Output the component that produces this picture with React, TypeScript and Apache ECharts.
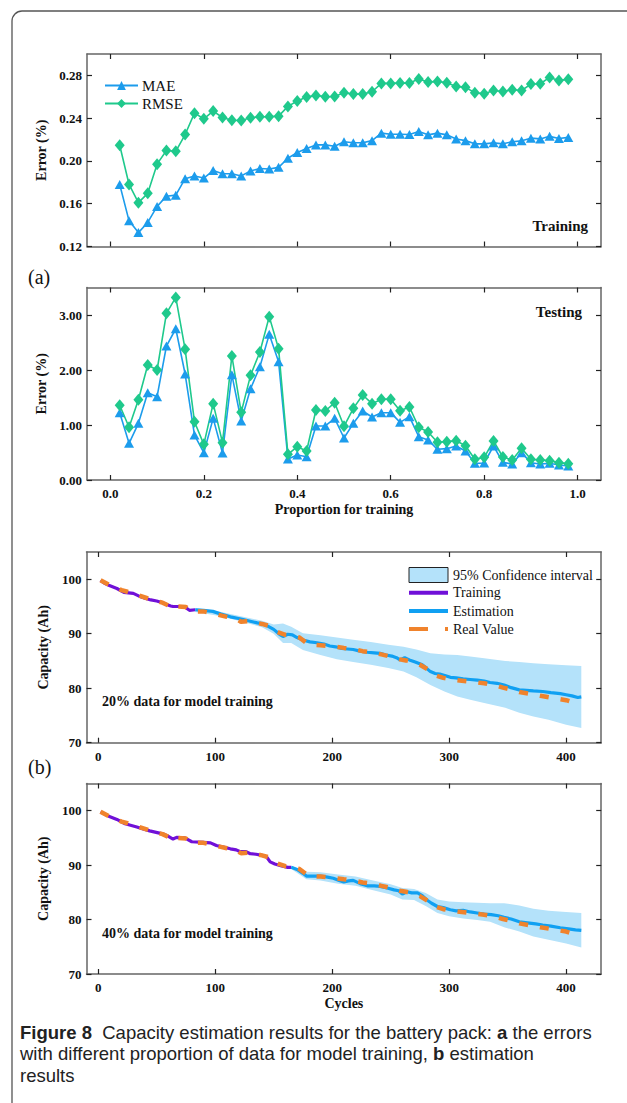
import React, { useEffect, useRef } from "react";
import * as echarts from "echarts";

// ---------- data (a) ----------
const proportions = [0.02, 0.04, 0.06, 0.08, 0.1, 0.12, 0.14, 0.16, 0.18, 0.2, 0.22, 0.24, 0.26, 0.28, 0.3, 0.32, 0.34, 0.36, 0.38, 0.4, 0.42, 0.44, 0.46, 0.48, 0.5, 0.52, 0.54, 0.56, 0.58, 0.6, 0.62, 0.64, 0.66, 0.68, 0.7, 0.72, 0.74, 0.76, 0.78, 0.8, 0.82, 0.84, 0.86, 0.88, 0.9, 0.92, 0.94, 0.96, 0.98];
const trainMAE = [0.178, 0.144, 0.133, 0.1425, 0.1575, 0.167, 0.168, 0.1834, 0.186, 0.184, 0.191, 0.188, 0.188, 0.186, 0.1906, 0.193, 0.1925, 0.194, 0.2025, 0.208, 0.2116, 0.215, 0.215, 0.2138, 0.218, 0.217, 0.217, 0.219, 0.226, 0.225, 0.225, 0.2247, 0.2275, 0.2244, 0.226, 0.2244, 0.2206, 0.219, 0.216, 0.216, 0.2169, 0.216, 0.218, 0.2188, 0.2213, 0.2206, 0.223, 0.221, 0.222];
const trainRMSE = [0.2147, 0.178, 0.161, 0.1697, 0.197, 0.2097, 0.209, 0.2247, 0.2447, 0.2394, 0.2466, 0.2406, 0.238, 0.2378, 0.2403, 0.2413, 0.2413, 0.2419, 0.251, 0.256, 0.2597, 0.2613, 0.26, 0.2603, 0.2638, 0.2625, 0.2625, 0.2647, 0.2725, 0.2725, 0.2728, 0.2728, 0.2766, 0.2738, 0.2744, 0.2731, 0.2697, 0.2688, 0.2638, 0.2628, 0.2659, 0.265, 0.2666, 0.2659, 0.2719, 0.2722, 0.2781, 0.2753, 0.2763];
const testMAE = [1.224, 0.667, 1.03, 1.588, 1.515, 2.436, 2.75, 1.927, 0.818, 0.497, 1.121, 0.491, 1.915, 1.073, 1.66, 2.06, 2.648, 2.15, 0.382, 0.455, 0.424, 0.982, 0.982, 1.121, 0.764, 1.03, 1.255, 1.145, 1.224, 1.224, 1.048, 1.152, 0.788, 0.727, 0.558, 0.57, 0.618, 0.527, 0.303, 0.309, 0.618, 0.321, 0.291, 0.497, 0.315, 0.291, 0.303, 0.273, 0.255];
const testRMSE = [1.358, 0.958, 1.46, 2.09, 2.0, 3.03, 3.32, 2.376, 1.06, 0.648, 1.388, 0.679, 2.255, 1.23, 1.903, 2.327, 2.97, 2.388, 0.467, 0.606, 0.527, 1.273, 1.255, 1.406, 0.976, 1.303, 1.545, 1.388, 1.467, 1.467, 1.26, 1.327, 0.958, 0.873, 0.685, 0.697, 0.715, 0.624, 0.376, 0.412, 0.709, 0.418, 0.364, 0.576, 0.376, 0.364, 0.352, 0.315, 0.297];
const propTicks = [0, 0.2, 0.4, 0.6, 0.8, 1.0];
const trainTicks = [0.12, 0.16, 0.2, 0.24, 0.28];
const testTicks = [0, 1, 2, 3];

// ---------- data (b) ----------
const cycleTicks = [0, 100, 200, 300, 400];
const capTicks = [70, 80, 90, 100];
const realCycles = [2, 10, 20, 25, 35, 45, 55, 60, 64, 68, 75, 80, 90, 100, 110, 118, 122, 128, 140, 145, 152, 160, 165, 172, 180, 190, 200, 210, 218, 226, 234, 242, 250, 258, 263, 267, 275, 283, 288, 295, 306, 318, 330, 340, 346, 352, 360, 368, 378, 389, 400, 409];
const realValues = [99.8, 98.9, 98.0, 97.7, 97.0, 96.3, 95.7, 95.2, 94.6, 95.0, 94.9, 94.1, 94.1, 93.6, 93.1, 92.7, 92.2, 92.3, 91.8, 91.5, 90.4, 89.8, 89.7, 89.3, 88.0, 87.9, 87.7, 87.4, 87.2, 86.8, 86.6, 86.2, 85.8, 85.3, 85.1, 84.9, 84.3, 83.3, 82.4, 81.9, 81.5, 81.2, 80.9, 80.5, 80.1, 79.8, 79.3, 79.0, 78.6, 78.2, 77.8, 77.2];

// 20% training
const train20Cycles = [2, 6, 9, 16, 22, 30, 35, 40, 45, 50, 55, 58, 62, 64, 67, 70, 74, 78, 83];
const train20Values = [99.8, 99.2, 98.9, 98.3, 97.6, 97.4, 96.9, 96.5, 96.2, 96.0, 95.7, 95.4, 95.1, 95.0, 95.0, 95.0, 94.9, 94.3, 94.4];
const est20Cycles = [83, 90, 98, 105, 113, 120, 124, 130, 136, 141, 145, 150, 155, 158, 162, 166, 170, 175, 181, 187, 193, 198, 203, 208, 213, 218, 224, 230, 236, 241, 246, 251, 255, 258, 262, 266, 271, 277, 281, 284, 288, 292, 297, 301, 306, 312, 318, 324, 330, 335, 341, 347, 353, 360, 366, 372, 380, 387, 395, 400, 405, 410, 413];
const est20Values = [94.4, 94.3, 94.1, 93.6, 93.1, 92.8, 92.6, 92.3, 92.0, 91.8, 91.4, 90.8, 89.9, 89.5, 89.9, 89.8, 89.3, 88.85, 88.5, 88.35, 88.1, 87.75, 87.6, 87.3, 87.2, 87.1, 86.8, 86.6, 86.5, 86.4, 86.1, 85.9, 85.6, 85.2, 85.6, 85.2, 84.8, 84.3, 83.6, 83.05, 82.7, 82.6, 82.3, 82.0, 81.9, 81.7, 81.6, 81.5, 81.3, 81.05, 80.9, 80.6, 80.1, 79.7, 79.6, 79.5, 79.4, 79.2, 79.0, 78.8, 78.6, 78.3, 78.4];
const band20Cycles = [83, 100, 120, 140, 150, 158, 165, 175, 190, 204, 218, 233, 248, 261, 272, 284, 296, 307, 318, 330, 348, 360, 372, 385, 400, 413];
const band20Upper = [94.7, 94.2, 93.3, 92.4, 91.7, 91.9, 91.3, 90.1, 89.7, 89.3, 88.9, 88.5, 88.0, 87.6, 87.1, 86.4, 86.2, 86.1, 85.8, 85.5, 85.0, 84.8, 84.6, 84.4, 84.2, 84.1];
const band20Lower = [94.0, 93.4, 92.4, 91.2, 90.0, 88.3, 88.3, 87.0, 86.1, 85.3, 84.8, 84.3, 83.7, 83.05, 82.0, 80.6, 79.4, 78.5, 77.9, 77.3, 76.4, 75.5, 74.8, 74.2, 73.3, 72.7];

// 40% training
const train40Cycles = [2, 9, 16, 23, 33, 44, 56, 60, 64, 67, 74, 80, 90, 96, 101, 107, 113, 118, 121, 126, 130, 135, 140, 144, 147, 151, 156, 162, 165];
const train40Values = [99.8, 99.0, 98.4, 97.6, 97.0, 96.3, 95.7, 95.3, 94.8, 95.1, 95.0, 94.3, 94.2, 94.1, 93.6, 93.3, 93.0, 92.8, 92.5, 92.5, 92.1, 92.0, 91.8, 91.5, 90.6, 90.2, 89.9, 89.6, 89.6];
const est40Cycles = [165, 170, 175, 178, 184, 190, 196, 201, 206, 210, 214, 218, 224, 230, 236, 241, 247, 253, 257, 260, 264, 268, 273, 277, 281, 285, 290, 295, 301, 306, 312, 318, 324, 330, 336, 342, 347, 353, 360, 367, 374, 380, 387, 395, 402, 408, 413];
const est40Values = [89.6, 89.2, 88.5, 88.0, 88.0, 88.0, 87.8, 87.6, 87.2, 86.9, 87.1, 87.2, 86.6, 86.2, 86.2, 86.1, 85.8, 85.45, 85.3, 84.7, 85.1, 84.9, 84.9, 84.4, 83.6, 83.0, 82.4, 82.2, 81.8, 81.6, 81.7, 81.4, 81.2, 81.0, 80.9, 80.7, 80.4, 80.1, 79.6, 79.4, 79.2, 79.0, 78.8, 78.5, 78.3, 78.1, 78.0];
const band40Cycles = [165, 178, 190, 205, 220, 235, 250, 260, 270, 280, 290, 300, 312, 324, 335, 347, 360, 372, 385, 400, 413];
const band40Upper = [89.9, 88.8, 88.7, 88.3, 87.9, 87.2, 86.5, 85.8, 85.6, 84.9, 83.7, 83.3, 83.2, 83.1, 83.0, 83.0, 82.6, 82.0, 81.6, 81.4, 81.2];
const band40Lower = [89.3, 87.4, 87.2, 86.6, 86.2, 85.4, 84.6, 83.7, 83.6, 82.5, 81.2, 80.6, 80.2, 79.9, 79.6, 78.6, 77.8, 76.9, 76.3, 75.6, 74.85];

// ---------- caption ----------
const captionLines = [
  "{b|Figure 8}  Capacity estimation results for the battery pack: {b|a} the errors",
  "with different proportion of data for model training, {b|b} estimation",
  "results",
];

// ---------- style ----------
const SERIF = '"Liberation Serif", "Times New Roman", serif';
const SANS = '"Liberation Sans", Arial, sans-serif';
const C_MAE = "#1c9cec";
const C_RMSE = "#1fc98c";
const C_TRAIN = "#7010d8";
const C_EST = "#10a0f2";
const C_REAL = "#f0832c";
const C_BAND = "#b4e2fa";
const AXIS = "#666";
const CAP_SIZE = 18.5;
const CAP_Y = [1032, 1053.5, 1075];

const pairs = (xs: number[], ys: number[]) => xs.map((x, i) => [x, ys[i]]);

const grids = [
  { left: 87, top: 54, width: 514, height: 192.5 },
  { left: 87, top: 287.5, width: 514, height: 192.5 },
  { left: 86.5, top: 552, width: 514.7, height: 190.7 },
  { left: 86.5, top: 783.5, width: 514.7, height: 190.5 },
];

export default function App() {
  const ref = useRef<HTMLDivElement>(null);
  useEffect(() => {
    if (!ref.current) return;
    const chart = echarts.init(ref.current, null, { renderer: "svg" });

    const labelStyle = { fontFamily: SERIF, fontWeight: "bold" as const, fontSize: 13, color: "#111" };
    const tickStyle = { show: true, inside: true, length: 5, lineStyle: { color: "#222", width: 1.2 } };

    const xCfg = [
      { min: -0.05, max: 1.05, ticks: propTicks, labels: false, fmt: (v: number) => v.toFixed(1), name: "" },
      { min: -0.05, max: 1.05, ticks: propTicks, labels: true, fmt: (v: number) => v.toFixed(1), name: "Proportion for training" },
      { min: -10, max: 430, ticks: cycleTicks, labels: true, fmt: (v: number) => String(v), name: "" },
      { min: -10, max: 430, ticks: cycleTicks, labels: true, fmt: (v: number) => String(v), name: "Cycles" },
    ];
    const yCfg = [
      { min: 0.12, max: 0.3, ticks: trainTicks, fmt: (v: number) => v.toFixed(2), name: "Error (%)" },
      { min: 0, max: 3.5, ticks: testTicks, fmt: (v: number) => v.toFixed(2), name: "Error (%)" },
      { min: 70, max: 105, ticks: capTicks, fmt: (v: number) => String(v), name: "Capacity (Ah)" },
      { min: 70, max: 105, ticks: capTicks, fmt: (v: number) => String(v), name: "Capacity (Ah)" },
    ];

    const xAxes: any[] = [];
    const yAxes: any[] = [];
    [0, 1].forEach((side) => {
      xCfg.forEach((c, i) => {
        xAxes.push({
          type: "value",
          gridIndex: i,
          position: side === 0 ? "bottom" : "top",
          min: c.min,
          max: c.max,
          splitLine: { show: false },
          axisLine: { show: true, onZero: false, lineStyle: { color: AXIS, width: 1.5 } },
          axisTick: { ...tickStyle, customValues: c.ticks },
          axisLabel: {
            show: side === 0 && c.labels,
            customValues: c.ticks,
            formatter: c.fmt,
            margin: 7,
            ...labelStyle,
          },
          name: side === 0 ? c.name : "",
          nameLocation: "middle",
          nameGap: 22,
          nameTextStyle: { fontFamily: SERIF, fontWeight: "bold", fontSize: 14, color: "#111", verticalAlign: "top" },
        });
      });
    });
    [0, 1].forEach((side) => {
      yCfg.forEach((c, i) => {
        yAxes.push({
          type: "value",
          gridIndex: i,
          position: side === 0 ? "left" : "right",
          min: c.min,
          max: c.max,
          splitLine: { show: false },
          axisLine: { show: true, onZero: false, lineStyle: { color: AXIS, width: 1.5 } },
          axisTick: { ...tickStyle, customValues: c.ticks },
          axisLabel: {
            show: side === 0,
            customValues: c.ticks,
            formatter: c.fmt,
            margin: 5,
            ...labelStyle,
          },
          name: side === 0 ? c.name : "",
          nameLocation: "middle",
          nameGap: 36,
          nameTextStyle: { fontFamily: SERIF, fontWeight: "bold", fontSize: 14, color: "#111" },
        });
      });
    });

    const errSeries = (name: string, data: number[], gi: number, color: string, symbol: string, size: any) => ({
      name,
      type: "line",
      xAxisIndex: gi,
      yAxisIndex: gi,
      data: pairs(proportions, data),
      symbol,
      symbolSize: size,
      showSymbol: true,
      lineStyle: { color, width: 1.6 },
      itemStyle: { color },
      z: 3,
    });

    const bandSeries = (gi: number, cs: number[], up: number[], lo: number[]) => ({
      name: "95% Confidence interval",
      type: "custom",
      xAxisIndex: gi,
      yAxisIndex: gi,
      clip: true,
      silent: true,
      z: 1,
      data: [[cs[0], up[0]]],
      renderItem: (_params: any, api: any) => {
        const pts: number[][] = [];
        for (let i = 0; i < cs.length; i++) pts.push(api.coord([cs[i], up[i]]));
        for (let i = cs.length - 1; i >= 0; i--) pts.push(api.coord([cs[i], lo[i]]));
        return { type: "polygon", shape: { points: pts }, style: { fill: C_BAND, stroke: null } };
      },
    });

    const capLine = (name: string, gi: number, xs: number[], ys: number[], color: string, width: number, z: number, dash?: number[]) => ({
      name,
      type: "line",
      xAxisIndex: gi,
      yAxisIndex: gi,
      data: pairs(xs, ys),
      symbol: "none",
      showSymbol: false,
      lineStyle: { color, width, type: dash ? dash : "solid", cap: "butt" },
      itemStyle: { color },
      z,
    });

    const series: any[] = [
      errSeries("MAE", trainMAE, 0, C_MAE, "triangle", [10, 9]),
      errSeries("RMSE", trainRMSE, 0, C_RMSE, "diamond", [10, 12]),
      errSeries("MAE", testMAE, 1, C_MAE, "triangle", [10, 9]),
      errSeries("RMSE", testRMSE, 1, C_RMSE, "diamond", [10, 12]),
      bandSeries(2, band20Cycles, band20Upper, band20Lower),
      capLine("Training", 2, train20Cycles, train20Values, C_TRAIN, 3.2, 3),
      capLine("Estimation", 2, est20Cycles, est20Values, C_EST, 3.2, 3),
      capLine("Real Value", 2, realCycles, realValues, C_REAL, 4.5, 4, [9, 12]),
      bandSeries(3, band40Cycles, band40Upper, band40Lower),
      capLine("Training", 3, train40Cycles, train40Values, C_TRAIN, 3.2, 3),
      capLine("Estimation", 3, est40Cycles, est40Values, C_EST, 3.2, 3),
      capLine("Real Value", 3, realCycles, realValues, C_REAL, 4.5, 4, [9, 12]),
    ];

    const txt = (text: string, x: number, y: number, opts: any = {}) => ({
      type: "text",
      x,
      y,
      z: 10,
      style: {
        text,
        fontFamily: SERIF,
        fontSize: 14,
        fill: "#111",
        textAlign: "left",
        textVerticalAlign: "middle",
        ...opts,
      },
    });

    const legY = [575, 592.7, 611, 629];
    const graphic: any[] = [
      {
        type: "rect",
        shape: { x: 12, y: 11, width: 800, height: 1300, r: 10 },
        style: { fill: "none", stroke: "#555", lineWidth: 1.3 },
        silent: true,
      },
      txt("(a)", 28, 277, { fontSize: 20 }),
      txt("(b)", 28, 767, { fontSize: 20 }),
      txt("Training", 588, 226, { fontWeight: "bold", fontSize: 15, textAlign: "right" }),
      txt("Testing", 582, 312, { fontWeight: "bold", fontSize: 15, textAlign: "right" }),
      txt("20% data for model training", 102, 701, { fontWeight: "bold", fontSize: 14 }),
      txt("40% data for model training", 102, 933, { fontWeight: "bold", fontSize: 14 }),
      {
        type: "rect",
        shape: { x: 409, y: 567.5, width: 39, height: 15 },
        style: { fill: C_BAND, stroke: "#222", lineWidth: 1 },
        z: 10,
      },
      { type: "line", shape: { x1: 409, y1: legY[1], x2: 448, y2: legY[1] }, style: { stroke: C_TRAIN, lineWidth: 4 }, z: 10 },
      { type: "line", shape: { x1: 409, y1: legY[2], x2: 448, y2: legY[2] }, style: { stroke: C_EST, lineWidth: 4 }, z: 10 },
      { type: "line", shape: { x1: 409, y1: legY[3], x2: 448, y2: legY[3] }, style: { stroke: C_REAL, lineWidth: 4, lineDash: [19, 17] }, z: 10 },
      txt("95% Confidence interval", 453, legY[0]),
      txt("Training", 453, legY[1]),
      txt("Estimation", 453, legY[2]),
      txt("Real Value", 453, legY[3]),
      ...captionLines.map((line, i) => ({
        type: "text",
        x: 20,
        y: CAP_Y[i],
        style: {
          text: line,
          fontFamily: SANS,
          fontSize: CAP_SIZE,
          lineHeight: 19,
          fill: "#222",
          textVerticalAlign: "middle",
          rich: { b: { fontFamily: SANS, fontSize: CAP_SIZE, fontWeight: "bold", fill: "#222", lineHeight: 19 } },
        },
      })),
    ];

    const legendCommon = {
      orient: "horizontal",
      itemWidth: 33,
      itemHeight: 11,
      itemGap: 4,
      selectedMode: false,
      textStyle: { fontFamily: SERIF, fontSize: 15, color: "#111", padding: [0, 0, 0, -1] },
    };

    chart.setOption({
      animation: false,
      backgroundColor: "#fff",
      grid: grids.map((g) => ({ ...g, containLabel: false })),
      xAxis: xAxes,
      yAxis: yAxes,
      legend: [
        { ...legendCommon, data: ["MAE"], left: 99, top: 73 },
        { ...legendCommon, data: ["RMSE"], left: 99, top: 91 },
      ],
      series,
      graphic,
    });
    return () => chart.dispose();
  }, []);
  return <div ref={ref} style={{ position: "absolute", left: 0, top: 0, width: 627, height: 1103 }} />;
}
